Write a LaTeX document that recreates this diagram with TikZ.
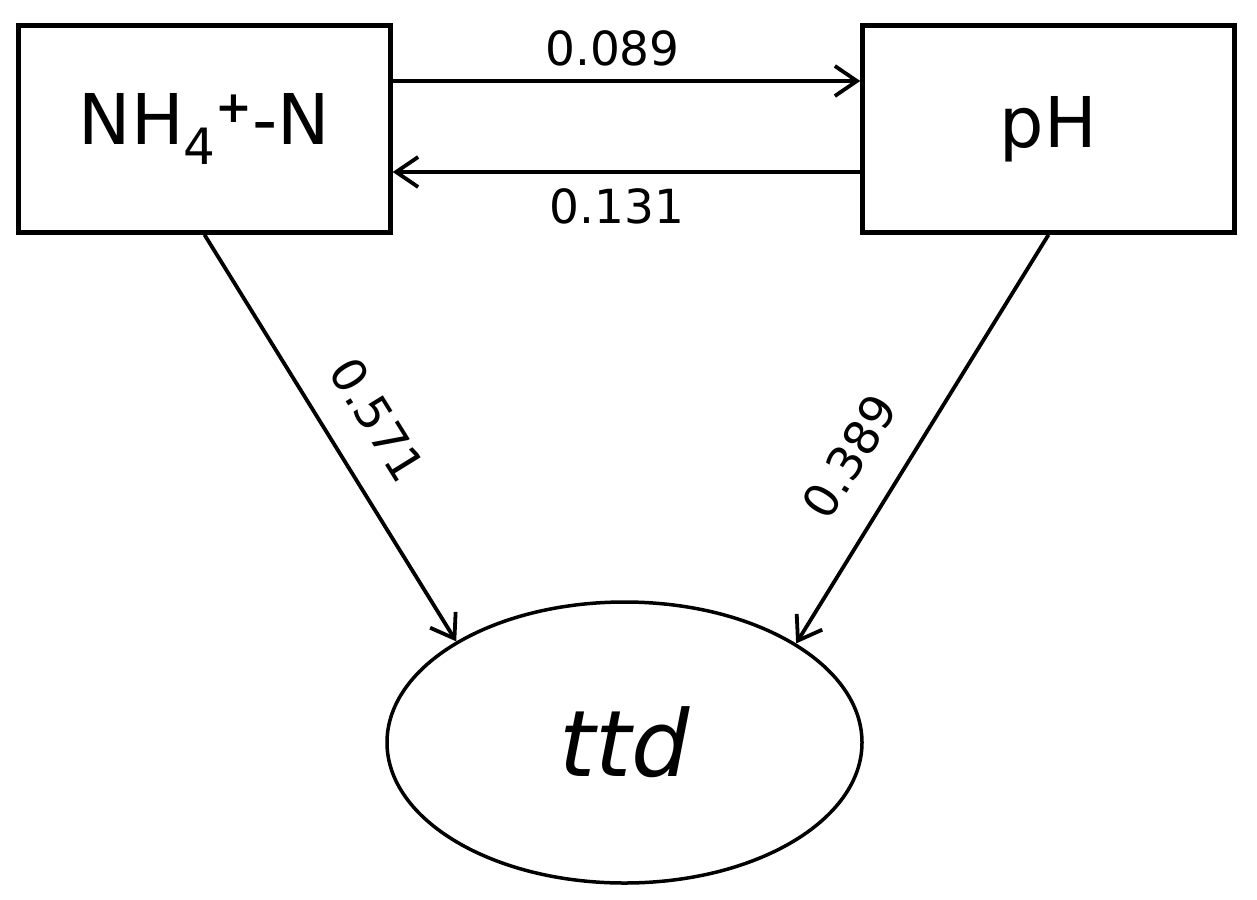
\documentclass[tikz,border=0pt]{standalone}
\usepackage{fontspec}
\setmainfont{DejaVu Sans}
\usetikzlibrary{arrows.meta,shapes.geometric}
\begin{document}
\begin{tikzpicture}[x=1pt,y=1pt,
  box/.style={draw, line width=4.5pt, minimum width=372pt, minimum height=207pt, inner sep=0pt, font=\fontsize{70}{70}\selectfont},
  oval/.style={draw, ellipse, line width=3.5pt, minimum width=475pt, minimum height=281pt, inner sep=0pt, font=\fontsize{92}{92}\selectfont\itshape},
  arr/.style={line width=3.8pt, -{Straight Barb[length=22pt,width=30pt,line width=3.8pt]}},
  lab/.style={inner sep=0pt, font=\fontsize{47}{47}\selectfont}]
\useasboundingbox[fill=white] (0,0) rectangle (1257,-899);
\node[box] (nh) at (204.5,-129) {NH\raisebox{-20pt}{\fontsize{50}{50}\selectfont 4}\raisebox{22pt}{\fontsize{44}{44}\selectfont\bfseries +}-N};
\node[box] (ph) at (1048.5,-129) {pH};
\node[oval] (ttd) at (624.5,-742.5) {ttd};
\draw[arr] ([yshift=48pt]nh.east) -- node[lab, pos=0.47, above=13pt] {0.089} ([yshift=48pt]ph.west);
\draw[arr] ([yshift=-43pt]ph.west) -- node[lab, pos=0.52, below=15pt] {0.131} ([yshift=-43pt]nh.east);
\draw[arr] (nh.south) -- node[lab, pos=0.52, sloped, above=30pt] {0.571} (ttd.149);
\draw[arr] (ph.south) -- node[lab, pos=0.61, sloped, above=33pt] {0.389} (ttd.30.5);
\end{tikzpicture}
\end{document}
